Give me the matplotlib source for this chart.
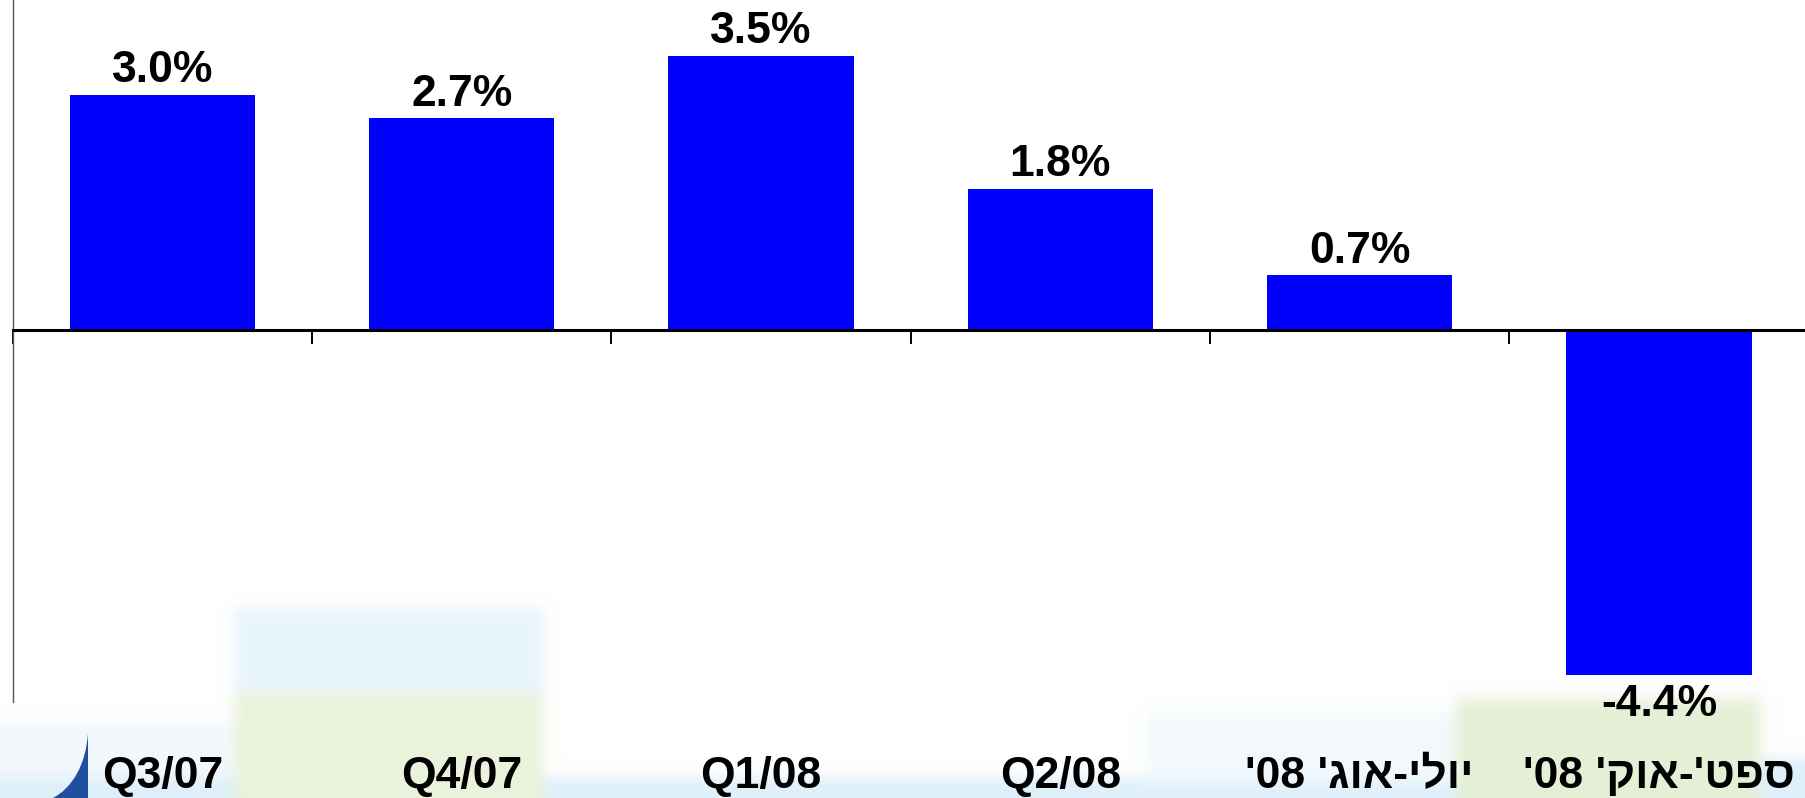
import re
import numpy as np
import matplotlib
matplotlib.use("Agg")
import matplotlib.pyplot as plt
import matplotlib.transforms as mtransforms
from matplotlib.path import Path
from matplotlib.patches import PathPatch

# data
categories = ["Q3/07", "Q4/07", "Q1/08", "Q2/08", "יולי-אוג' 08'", "ספט'-אוק' 08'"]
values = [3.0, 2.7, 3.5, 1.8, 0.7, -4.4]
value_labels = ["3.0%", "2.7%", "3.5%", "1.8%", "0.7%", "-4.4%"]

FONT = ["Liberation Sans", "DejaVu Sans"]
plt.rcParams["font.family"] = FONT


def visual(s):
    # matplotlib has no bidi support: lay Hebrew out right-to-left by hand
    if not any("\u0590" <= c <= "\u05ff" for c in s):
        return s
    r = s[::-1]
    return re.sub(r"\d+", lambda m: m.group(0)[::-1], r)


W, H = 1805, 798
fig = plt.figure(figsize=(W / 100, H / 100), dpi=100)

# faint slide background (soft coloured patches at the bottom)
cell = 5
grid = np.ones((H // cell + 1, W // cell + 1, 3))


def paint(x0, x1, y0, y1, rgb):
    grid[y0 // cell:y1 // cell + 1, x0 // cell:x1 // cell + 1] = rgb


paint(0, 235, 725, 780, (0.95, 0.97, 0.99))
paint(0, 1460, 780, 798, (0.87, 0.94, 0.98))
paint(1760, 1805, 760, 798, (0.87, 0.94, 0.98))
paint(1150, 1460, 715, 780, (0.95, 0.975, 0.99))
paint(235, 540, 610, 697, (0.91, 0.96, 0.99))
paint(235, 540, 697, 798, (0.92, 0.95, 0.86))
paint(1460, 1760, 700, 798, (0.90, 0.94, 0.84))

# soften the edges with a few box-blur passes
for _ in range(4):
    g = np.pad(grid, ((1, 1), (1, 1), (0, 0)), mode="edge")
    grid = (g[:-2, 1:-1] + g[2:, 1:-1] + g[1:-1, :-2] + g[1:-1, 2:] + g[1:-1, 1:-1]) / 5

bg = fig.add_axes([0, 0, 1, 1], zorder=0)
bg.imshow(grid, extent=(0, W, H, 0), interpolation="bilinear", aspect="auto")
bg.set_xlim(0, W)
bg.set_ylim(H, 0)
bg.axis("off")

# blue sail logo, bottom left
verts = [(88, 733), (86, 765), (72, 788), (53, 798), (88, 798), (88, 733)]
codes = [Path.MOVETO, Path.CURVE4, Path.CURVE4, Path.CURVE4, Path.LINETO, Path.CLOSEPOLY]
bg.add_patch(PathPatch(Path(verts, codes), facecolor="#1f4f9e", edgecolor="none"))

# main chart
ax = fig.add_axes([12.7 / W, 96 / H, 1796 / W, 702 / H], zorder=1)
ax.patch.set_alpha(0)
x = np.arange(len(values))
ax.bar(x, values, width=0.62, color="#0000ff", zorder=3)
ax.set_xlim(-0.5, 5.5)
ax.set_ylim(-4.75, 4.21)

ax.spines["top"].set_visible(False)
ax.spines["right"].set_visible(False)
ax.spines["left"].set_color("#555555")
ax.spines["left"].set_linewidth(1.0)
ax.spines["bottom"].set_position(("data", 0))
ax.spines["bottom"].set_color("black")
ax.spines["bottom"].set_linewidth(2.2)
ax.spines["bottom"].set_zorder(4)
ax.set_yticks([])
ax.set_xticks(np.arange(-0.5, 5.5, 1))
ax.tick_params(axis="x", direction="out", length=10, width=1.4,
               color="black", labelbottom=False)

# value labels
for xi, v, lab in zip(x, values, value_labels):
    if v >= 0:
        ax.annotate(lab, (xi, v), xytext=(0, 9), textcoords="offset points",
                    ha="center", va="baseline", fontsize=32, fontweight="bold")
    else:
        ax.annotate(lab, (xi, v), xytext=(0, -7), textcoords="offset points",
                    ha="center", va="top", fontsize=32, fontweight="bold")

# category labels at the bottom of the slide
trans = mtransforms.blended_transform_factory(ax.transData, ax.transAxes)
for xi, cat in zip(x, categories):
    ax.text(xi, -0.1225, visual(cat), transform=trans, ha="center",
            va="baseline", fontsize=32, fontweight="bold", clip_on=False)

fig.savefig("out.png", dpi=100)
